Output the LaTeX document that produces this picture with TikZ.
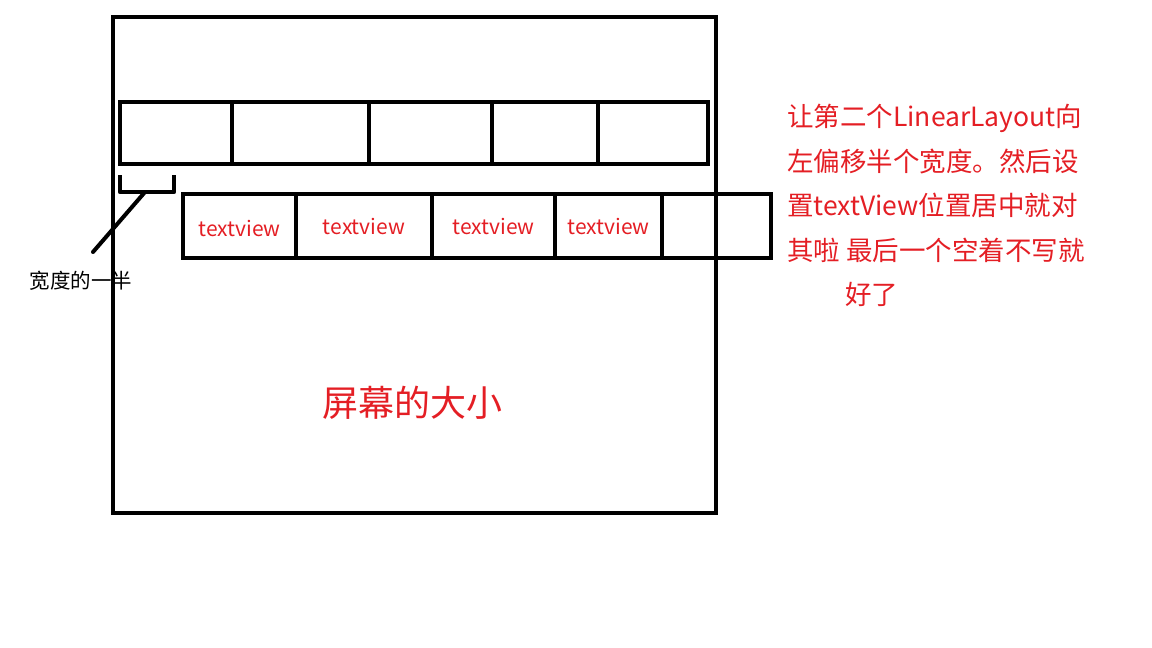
\documentclass[tikz,border=0pt]{standalone}
\usepackage{fontspec}
\setmainfont{Noto Sans CJK SC}
\definecolor{inkred}{RGB}{228,30,36}
\tikzset{
  frame/.style={draw=black, line width=4.5pt, rectangle, inner sep=0pt, outer sep=0pt, anchor=north west},
  cellbox/.style={frame},
  tvlabel/.style={text=inkred, font=\fontsize{21}{21}\selectfont},
  note/.style={text=inkred, font=\fontsize{26.5}{44.5}\selectfont, align=left, anchor=north west, inner sep=0pt},
}
\begin{document}
\begin{tikzpicture}[x=1pt,y=-1pt]
\useasboundingbox (0,0) rectangle (1152,648);
% half-width label (behind screen line)
\node[font=\fontsize{20.5}{20.5}\selectfont, anchor=center] (half) at (81,281) {宽度的一半};
% screen
\node[frame, minimum width=603pt, minimum height=496pt] (screen) at (113,17) {};
% top row
\node[cellbox, minimum width=112pt, minimum height=62pt] (t1) at (120,102) {};
\node[cellbox, minimum width=137pt, minimum height=62pt] (t2) at (232,102) {};
\node[cellbox, minimum width=123pt, minimum height=62pt] (t3) at (369,102) {};
\node[cellbox, minimum width=106pt, minimum height=62pt] (t4) at (492,102) {};
\node[cellbox, minimum width=110pt, minimum height=62pt] (t5) at (598,102) {};
% bottom row
\node[cellbox, minimum width=113pt, minimum height=64pt] (b1) at (183,194) {};
\node[cellbox, minimum width=136pt, minimum height=64pt] (b2) at (296,194) {};
\node[cellbox, minimum width=123pt, minimum height=64pt] (b3) at (432,194) {};
\node[cellbox, minimum width=107pt, minimum height=64pt] (b4) at (555,194) {};
\node[cellbox, minimum width=109pt, minimum height=64pt] (b5) at (662,194) {};
\node[tvlabel] (l1) at ([yshift=-2pt]b1.center) {textview};
\node[tvlabel] (l2) at (b2.center) {textview};
\node[tvlabel] (l3) at (b3.center) {textview};
\node[tvlabel] (l4) at (b4.center) {textview};
% bracket and pointer
\coordinate (bra) at (120,175);
\coordinate (brb) at (120,192);
\coordinate (brc) at (174,192);
\coordinate (brd) at (174,175);
\coordinate (brm) at (145,192);
\draw[line width=4.5pt, line join=round] (bra) -- (brb) -- (brc) -- (brd);
\draw[line width=4pt, line cap=round] (brm) -- (93,252) coordinate (tip);
% notes
\node[note] (n1) at (787,104) {让第二个LinearLayout向\\左偏移半个宽度。然后设\\置textView位置居中就对\\其啦 最后一个空着不写就};
\node[note] (n2) at (845,282) {好了};
\node[text=inkred, font=\fontsize{36}{36}\selectfont] (size) at (412,403) {屏幕的大小};
\end{tikzpicture}
\end{document}
